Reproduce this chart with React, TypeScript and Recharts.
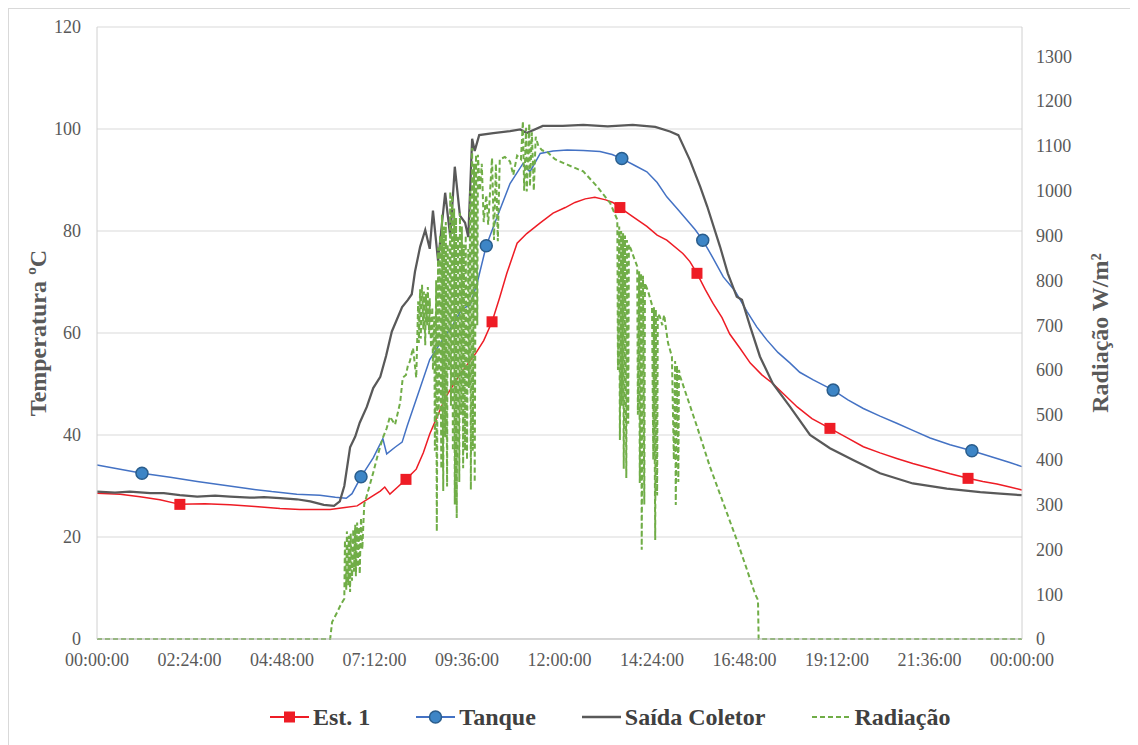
import React from 'react';
import { LineChart, Line, XAxis, YAxis, CartesianGrid, Legend } from 'recharts';

// [minutos desde 00:00, valor]
const EST1: [number, number][] = [
  [0, 28.6], [36, 28.4], [67, 27.9], [98, 27.3], [129, 26.4], [168, 26.5], [207, 26.3], [246, 26.0],
  [285, 25.6], [316, 25.4], [338, 25.4], [363, 25.4], [386, 25.8], [405, 26.1], [425, 27.7], [441, 29.0],
  [448, 29.8], [456, 28.4], [469, 29.9], [481, 31.3], [497, 33.3], [508, 36.5], [518, 40.2], [531, 44.0],
  [543, 47.5], [565, 51.9], [590, 56.1], [602, 58.5], [615, 62.2], [627, 67.0], [638, 71.7], [654, 77.6],
  [669, 79.5], [690, 81.6], [710, 83.5], [729, 84.6], [744, 85.6], [760, 86.3], [775, 86.6], [792, 86.1],
  [803, 85.6], [814, 84.6], [834, 82.8], [856, 80.9], [872, 79.2], [887, 78.2], [912, 75.6], [923, 74.0],
  [934, 71.7], [947, 68.5], [959, 65.8], [973, 63.0], [985, 59.8], [1001, 57.0], [1017, 54.1], [1035, 51.8],
  [1052, 50.1], [1071, 47.8], [1090, 45.5], [1113, 43.2], [1141, 41.3], [1166, 39.6], [1193, 37.7],
  [1219, 36.5], [1245, 35.4], [1270, 34.4], [1297, 33.5], [1328, 32.4], [1356, 31.5], [1379, 30.9],
  [1401, 30.4], [1421, 29.8], [1440, 29.2],
];

const TANQUE: [number, number][] = [
  [0, 34.1], [36, 33.3], [70, 32.5], [114, 31.7], [156, 30.9], [195, 30.2], [234, 29.5], [272, 28.9],
  [311, 28.4], [347, 28.2], [371, 27.8], [388, 27.6], [397, 28.5], [411, 31.8], [430, 35.5], [445, 39.3],
  [451, 36.3], [464, 37.6], [475, 38.6], [483, 41.8], [503, 49.2], [518, 54.8], [539, 58.9], [554, 61.6],
  [568, 64.7], [581, 65.5], [592, 69.9], [606, 77.1], [623, 82.8], [643, 89.3], [663, 93.2], [674, 91.6],
  [690, 95.2], [710, 95.7], [732, 95.9], [757, 95.8], [783, 95.6], [802, 95.0], [817, 94.2], [838, 92.8],
  [856, 91.6], [872, 89.5], [887, 86.7], [903, 84.4], [918, 82.2], [931, 80.3], [943, 78.2], [959, 74.7],
  [975, 71.0], [993, 68.3], [1012, 64.2], [1027, 61.2], [1043, 58.6], [1060, 56.2], [1079, 54.1],
  [1094, 52.3], [1115, 50.8], [1146, 48.8], [1169, 46.9], [1193, 45.2], [1219, 43.7], [1245, 42.3],
  [1270, 40.9], [1297, 39.4], [1328, 38.1], [1362, 36.9], [1401, 35.4], [1421, 34.6], [1440, 33.8],
];

const SAIDA: [number, number][] = [
  [0, 28.9], [28, 28.7], [51, 28.9], [83, 28.6], [104, 28.6], [129, 28.2], [156, 27.9], [184, 28.1],
  [207, 27.9], [238, 27.7], [260, 27.8], [285, 27.6], [311, 27.4], [332, 27.0], [353, 26.3], [369, 26.1],
  [378, 27.0], [385, 30.0], [394, 37.6], [402, 39.7], [409, 42.4], [420, 45.5], [430, 49.2], [441, 51.4],
  [450, 55.5], [459, 60.3], [475, 65.1], [484, 66.5], [490, 67.6], [495, 72.0], [503, 76.9], [511, 80.2],
  [518, 76.5], [523, 84.0], [531, 74.1], [542, 87.5], [550, 78.8], [557, 92.6], [565, 83.0], [573, 81.6],
  [578, 78.8], [584, 98.1], [588, 95.7], [595, 98.8], [617, 99.2], [643, 99.6], [659, 99.9], [669, 99.2],
  [694, 100.6], [725, 100.6], [757, 100.8], [795, 100.5], [834, 100.8], [869, 100.4], [892, 99.5],
  [905, 98.8], [923, 93.9], [939, 88.7], [950, 84.8], [970, 76.9], [982, 71.7], [996, 67.1], [1004, 66.5],
  [1017, 61.2], [1032, 55.4], [1052, 50.1], [1079, 45.5], [1110, 40.0], [1141, 37.4], [1177, 35.1],
  [1219, 32.5], [1270, 30.5], [1323, 29.5], [1375, 28.8], [1406, 28.5], [1440, 28.2],
];

const RADIACAO: [number, number][] = [
  [0, 0], [363, 0], [366, 38], [374, 60], [380, 78], [385, 90],
  [386, 220], [388, 110], [389, 240], [391, 120], [392, 230], [394, 105], [395, 235], [397, 130],
  [399, 245], [400, 150], [402, 255], [403, 140], [405, 260], [406, 160], [408, 250], [409, 145],
  [411, 270], [413, 200], [416, 300], [422, 330], [430, 371], [437, 410], [445, 449], [451, 470],
  [456, 496], [464, 478], [472, 528], [476, 583], [481, 589], [484, 610], [487, 619], [492, 649],
  [497, 583], [500, 753], [501, 660], [503, 780], [504, 670], [506, 790], [508, 690], [509, 775],
  [511, 655], [512, 770], [514, 700], [515, 785], [517, 680], [518, 760], [520, 650], [522, 740],
  [523, 600], [525, 720], [526, 420], [528, 800], [529, 240], [531, 873], [532, 500], [534, 900],
  [536, 380], [537, 946], [539, 330], [540, 920], [542, 450], [543, 930], [545, 340], [546, 880],
  [548, 600], [550, 998], [551, 520], [553, 990], [554, 420], [556, 960], [557, 300], [559, 940],
  [560, 270], [562, 900], [564, 350], [565, 950], [567, 500], [568, 920], [570, 381], [571, 880],
  [573, 420], [574, 900], [576, 400], [578, 870], [579, 560], [581, 1000], [582, 333], [584, 1095],
  [585, 420], [587, 1060], [588, 350], [590, 1080], [592, 700], [593, 1080], [596, 1000], [599, 1060],
  [602, 930], [606, 990], [609, 924], [612, 1000], [615, 1073], [618, 890], [621, 1060], [624, 887],
  [627, 1070], [635, 1075], [643, 1065], [648, 1035], [654, 1078], [660, 1070], [663, 1155], [665, 1000],
  [668, 1140], [669, 998], [673, 1150], [674, 1010], [677, 1130], [680, 1000], [683, 1120], [687, 1100],
  [693, 1090], [702, 1085], [713, 1070], [732, 1058], [757, 1043], [778, 1010], [799, 972], [810, 935],
  [811, 600], [813, 920], [814, 444], [816, 910], [817, 520], [819, 905], [820, 380], [822, 900],
  [824, 359], [825, 890], [827, 480], [828, 880], [831, 870], [836, 850], [841, 831],
  [842, 500], [844, 820], [845, 348], [847, 815], [848, 199], [850, 810], [852, 300], [853, 794],
  [858, 775], [864, 745], [866, 400], [867, 740], [869, 221], [870, 735], [872, 320], [873, 725],
  [876, 720], [880, 700], [883, 723], [886, 690], [889, 660], [895, 630], [898, 400], [900, 620],
  [901, 299], [903, 610], [905, 350], [906, 600], [908, 585], [934, 474], [954, 385], [975, 303],
  [996, 221], [1012, 154], [1024, 102], [1029, 87], [1030, 0], [1440, 0],
];

// pontos que levam marcador
const EST1_MARCAS = [129, 481, 615, 814, 934, 1141, 1356];
const TANQUE_MARCAS = [70, 411, 606, 817, 943, 1146, 1362];

const X_TICKS = [0, 144, 288, 432, 576, 720, 864, 1008, 1152, 1296, 1440];
const TEMP_TICKS = [0, 20, 40, 60, 80, 100, 120];
const RAD_TICKS = [0, 100, 200, 300, 400, 500, 600, 700, 800, 900, 1000, 1100, 1200, 1300];

const FONTE = "'Liberation Serif', 'Times New Roman', serif";
const COR_TEXTO = '#595959';

const linhas = (pts: [number, number][], marcas: number[] = []) =>
  pts.map(([m, v]) => ({ m, v, marca: marcas.includes(m) }));

const formatHora = (m: number) => {
  const t = m % 1440;
  const h = String(Math.floor(t / 60)).padStart(2, '0');
  const mm = String(t % 60).padStart(2, '0');
  return `${h}:${mm}:00`;
};

const DotQuadrado = (props: any) => {
  const { cx, cy, payload, index } = props;
  if (!payload?.marca) return <g key={`q${index}`} />;
  return <rect key={`q${index}`} x={cx - 5.5} y={cy - 5.5} width={11} height={11} fill="#ee1c25" />;
};

const DotCirculo = (props: any) => {
  const { cx, cy, payload, index } = props;
  if (!payload?.marca) return <g key={`c${index}`} />;
  return <circle key={`c${index}`} cx={cx} cy={cy} r={6} fill="#3d85c6" stroke="#2a5d8c" strokeWidth={1.5} />;
};

const TituloEixo = ({ viewBox, texto, dx }: any) => {
  const cx = viewBox.x + dx;
  const cy = viewBox.y + viewBox.height / 2;
  return (
    <text
      x={cx}
      y={cy}
      transform={`rotate(-90 ${cx} ${cy})`}
      textAnchor="middle"
      dominantBaseline="central"
      fontFamily={FONTE}
      fontWeight="bold"
      fontSize={24}
      fill={COR_TEXTO}
    >
      {texto}
    </text>
  );
};

const ItemLegenda = ({ icone, texto, ultimo }: { icone: React.ReactNode; texto: string; ultimo?: boolean }) => (
  <div style={{ display: 'flex', alignItems: 'center', marginRight: ultimo ? 0 : 46 }}>
    <svg width={39} height={16}>{icone}</svg>
    <span style={{ marginLeft: 4 }}>{texto}</span>
  </div>
);

const Legenda = () => (
  <div
    style={{
      display: 'flex',
      alignItems: 'center',
      height: 40,
      paddingLeft: 261,
      fontFamily: FONTE,
      fontWeight: 'bold',
      fontSize: 24,
      color: '#404040',
    }}
  >
    <ItemLegenda
      texto="Est. 1"
      icone={
        <>
          <line x1={0} y1={8} x2={39} y2={8} stroke="#ee1c25" strokeWidth={2} />
          <rect x={14} y={2.5} width={11} height={11} fill="#ee1c25" />
        </>
      }
    />
    <ItemLegenda
      texto="Tanque"
      icone={
        <>
          <line x1={0} y1={8} x2={39} y2={8} stroke="#4472c4" strokeWidth={2} />
          <circle cx={19.5} cy={8} r={6} fill="#3d85c6" stroke="#2a5d8c" strokeWidth={1.5} />
        </>
      }
    />
    <ItemLegenda texto="Saída Coletor" icone={<line x1={0} y1={8} x2={39} y2={8} stroke="#595959" strokeWidth={2.5} />} />
    <ItemLegenda
      ultimo
      texto="Radiação"
      icone={<line x1={0} y1={8} x2={39} y2={8} stroke="#70ad47" strokeWidth={2} strokeDasharray="5 3" />}
    />
  </div>
);

const TICK = { fill: COR_TEXTO, fontSize: 18, fontFamily: FONTE };

export default function App() {
  return (
    <div
      style={{
        borderTop: '1px solid #d9d9d9',
        borderLeft: '1px solid #d9d9d9',
        width: 1129,
        height: 736,
        fontFamily: FONTE,
      }}
    >
      <LineChart
        width={1129}
        height={736}
        margin={{ top: 18, right: 16, bottom: 8, left: 10 }}
        style={{ fontFamily: FONTE }}
      >
        <CartesianGrid yAxisId="temp" vertical={false} stroke="#d9d9d9" strokeWidth={1} />
        <XAxis
          type="number"
          dataKey="m"
          domain={[0, 1440]}
          ticks={X_TICKS}
          interval={0}
          tickFormatter={formatHora}
          height={58}
          tickLine={false}
          tickSize={6}
          tickMargin={8}
          axisLine={{ stroke: '#bfbfbf' }}
          tick={TICK}
        />
        <YAxis
          yAxisId="temp"
          domain={[0, 120]}
          ticks={TEMP_TICKS}
          interval={0}
          width={78}
          tickLine={false}
          tickSize={8}
          tickMargin={8}
          axisLine={{ stroke: '#d0d0d0' }}
          tick={TICK}
          label={<TituloEixo texto="Temperatura ºC" dx={19} />}
        />
        <YAxis
          yAxisId="rad"
          orientation="right"
          domain={[0, 1365]}
          ticks={RAD_TICKS}
          interval={0}
          width={100}
          tickLine={false}
          tickSize={6}
          tickMargin={8}
          axisLine={{ stroke: '#d0d0d0' }}
          tick={TICK}
          label={<TituloEixo texto="Radiação W/m²" dx={78} />}
        />
        <Legend
          verticalAlign="bottom"
          content={() => <Legenda />}
          wrapperStyle={{ left: 0, bottom: 8, width: 1129 }}
        />
        <Line
          yAxisId="temp"
          data={linhas(EST1, EST1_MARCAS)}
          dataKey="v"
          name="Est. 1"
          type="linear"
          stroke="#ee1c25"
          strokeWidth={1.5}
          dot={DotQuadrado}
          activeDot={false}
          isAnimationActive={false}
        />
        <Line
          yAxisId="temp"
          data={linhas(TANQUE, TANQUE_MARCAS)}
          dataKey="v"
          name="Tanque"
          type="linear"
          stroke="#4472c4"
          strokeWidth={1.5}
          dot={DotCirculo}
          activeDot={false}
          isAnimationActive={false}
        />
        <Line
          yAxisId="temp"
          data={linhas(SAIDA)}
          dataKey="v"
          name="Saída Coletor"
          type="linear"
          stroke="#595959"
          strokeWidth={2.25}
          dot={false}
          activeDot={false}
          isAnimationActive={false}
        />
        <Line
          yAxisId="rad"
          data={linhas(RADIACAO)}
          dataKey="v"
          name="Radiação"
          type="linear"
          stroke="#70ad47"
          strokeWidth={2}
          strokeDasharray="5 3"
          dot={false}
          activeDot={false}
          isAnimationActive={false}
        />
      </LineChart>
    </div>
  );
}
